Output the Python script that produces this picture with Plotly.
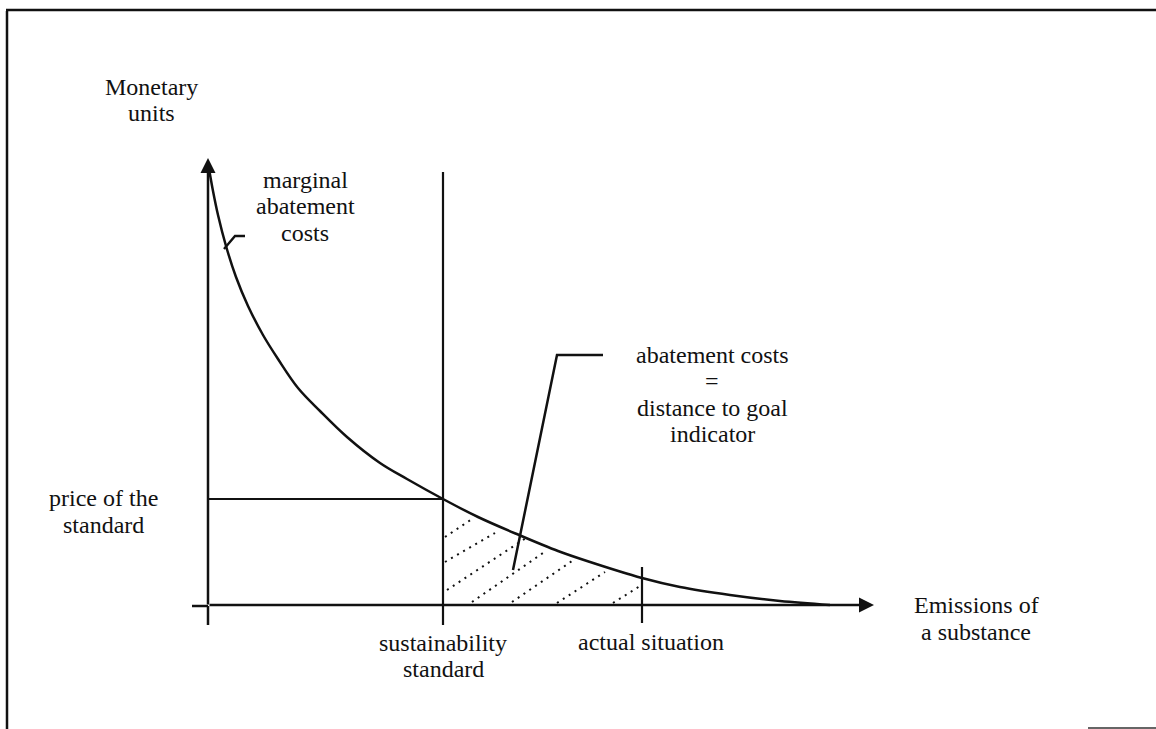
import plotly.graph_objects as go

# ---- data (diagram units: origin at axis crossing, x = emissions, y = monetary units) ----
curve_x = [0, 5, 10, 18, 28, 40, 55, 70, 90, 112, 139, 172, 199, 235, 270, 311, 350, 379, 434, 472, 522, 572, 622]
curve_y = [443, 415, 391, 360, 329, 300, 271, 247, 218, 195, 169, 143, 127, 107, 89, 71, 55, 45, 28, 19, 11, 5, 1]

standard_x = 235          # sustainability standard
actual_x = 434            # actual situation
price_y = 107             # price of the standard

# hatch lines (start x, start y, end x, end y)
hatch_x0 = [237, 237, 239, 264, 304, 349, 405]
hatch_y0 = [69, 44, 16, 4, 4, 3, 3]
hatch_x1 = [264, 287, 318, 335, 364, 397, 432]
hatch_y1 = [87, 73, 68, 53, 45, 34, 20]

# leader lines
marg_lx = [16, 27, 37]
marg_ly = [357, 370, 370]
abat_lx = [305, 349, 395]
abat_ly = [36, 251, 251]

# label lines with block centres
labels = {
    "ylab": (["Monetary", "units"], -57, 506),
    "marg": (["marginal", "abatement", "costs"], 97, 400),
    "abat": (["abatement costs", "=", "distance to goal", "indicator"], 504, 211.5),
    "price": (["price of the", "standard"], -105, 94.5),
    "sust": (["sustainability", "standard"], 235, -50),
    "act": (["actual situation"], 443, -36),
    "emis": (["Emissions of", "a substance"], 768, -12.5),
}
LINE_GAP = 26.5

X_RANGE = [-208, 948]
Y_RANGE = [-123, 606]

FONT = "Liberation Serif"
BLACK = "#111111"

fig = go.Figure()

# curve
fig.add_trace(go.Scatter(x=curve_x, y=curve_y, mode="lines",
                         line=dict(color=BLACK, width=2.5, shape="spline", smoothing=1.0),
                         hoverinfo="skip", showlegend=False))

# hatch lines (dotted)
for x0, y0, x1, y1 in zip(hatch_x0, hatch_y0, hatch_x1, hatch_y1):
    fig.add_trace(go.Scatter(x=[x0, x1], y=[y0, y1], mode="lines",
                             line=dict(color=BLACK, width=2, dash="2px,5px"),
                             hoverinfo="skip", showlegend=False))

# leader lines
fig.add_trace(go.Scatter(x=marg_lx, y=marg_ly, mode="lines",
                         line=dict(color=BLACK, width=2.4), hoverinfo="skip", showlegend=False))
fig.add_trace(go.Scatter(x=abat_lx, y=abat_ly, mode="lines",
                         line=dict(color=BLACK, width=2.5), hoverinfo="skip", showlegend=False))

shapes = []
def seg(x0, y0, x1, y1, w=2.5, color=BLACK):
    shapes.append(dict(type="line", xref="x", yref="y", x0=x0, y0=y0, x1=x1, y1=y1,
                       line=dict(color=color, width=w)))

# frame (left and top)
seg(-201, 595, -201, -123, 2.5)
seg(-202, 596, 948, 596, 2.5)
seg(880, -122, 948, -122, 2, "#666666")

# price line and verticals
seg(0, price_y, standard_x, price_y, 2.2)
seg(standard_x, 434, standard_x, -19, 2.2)
seg(actual_x, 39, actual_x, -17, 2.2)
# axis stubs below/left of origin
seg(0, 0, 0, -19, 2.5)
seg(-16, 0, 0, 0, 2.5)

annotations = []
# axes with arrows
annotations.append(dict(x=0, y=448, ax=0, ay=0, xref="x", yref="y", axref="x", ayref="y",
                        showarrow=True, arrowhead=2, arrowsize=1.2, arrowwidth=2.5,
                        arrowcolor=BLACK, text=""))
annotations.append(dict(x=666, y=1, ax=0, ay=1, xref="x", yref="y", axref="x", ayref="y",
                        showarrow=True, arrowhead=2, arrowsize=1.2, arrowwidth=2.5,
                        arrowcolor=BLACK, text=""))

for key, (lines, cx, cy) in labels.items():
    n = len(lines)
    for i, t in enumerate(lines):
        y = cy + (n - 1) / 2 * LINE_GAP - i * LINE_GAP
        annotations.append(dict(x=cx, y=y, xref="x", yref="y", text=t, showarrow=False,
                                xanchor="center", yanchor="middle",
                                font=dict(family=FONT, size=24, color=BLACK)))

fig.update_layout(
    width=1156, height=729,
    margin=dict(l=0, r=0, t=0, b=0),
    paper_bgcolor="white", plot_bgcolor="white",
    xaxis=dict(range=X_RANGE, visible=False, showgrid=False, zeroline=False, fixedrange=True),
    yaxis=dict(range=Y_RANGE, visible=False, showgrid=False, zeroline=False, fixedrange=True),
    shapes=shapes, annotations=annotations, showlegend=False,
)

fig.write_html("out.html", config={"displayModeBar": False},
               post_script="document.body.style.margin='0';document.body.style.overflow='hidden';")
